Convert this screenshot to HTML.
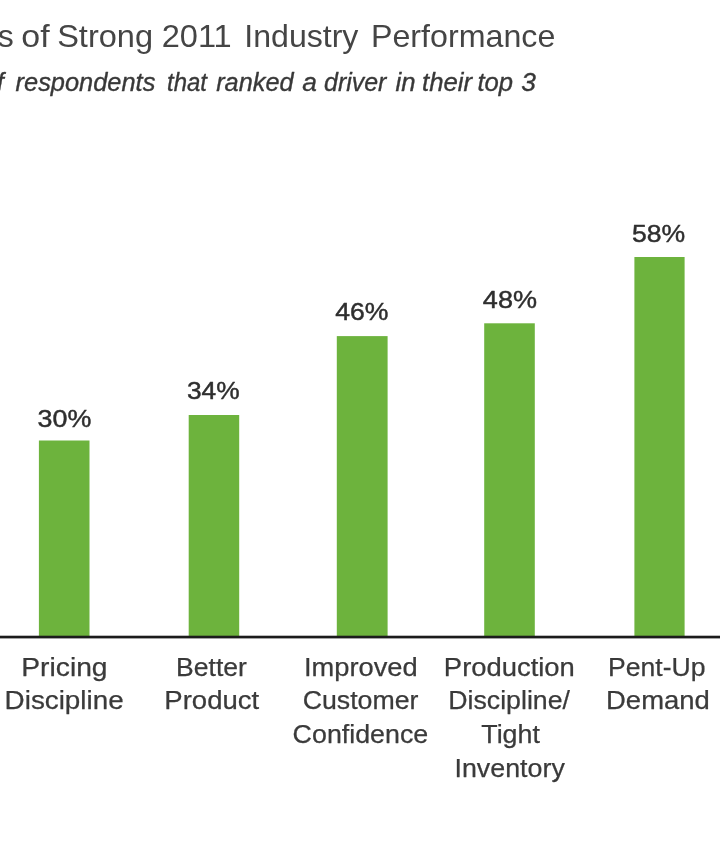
<!DOCTYPE html>
<html><head><meta charset="utf-8"><title>Chart</title>
<style>
html,body{margin:0;padding:0;background:#fff;}
body{width:720px;height:845px;overflow:hidden;}
svg{display:block;font-family:'Liberation Sans', sans-serif;}
text{white-space:pre;}
</style></head><body>
<svg width="720" height="845" viewBox="0 0 720 845">
<defs><filter id="soft" x="-2%" y="-2%" width="104%" height="104%"><feGaussianBlur stdDeviation="0.6"/></filter></defs>
<rect width="720" height="845" fill="#fff"/>
<g filter="url(#soft)">
<g fill="#6db33e"><rect x="38.9" y="440.5" width="50.6" height="196.5"/><rect x="188.7" y="415" width="50.5" height="222"/><rect x="336.8" y="336.1" width="50.8" height="300.9"/><rect x="484.2" y="323.3" width="50.6" height="313.7"/><rect x="634.4" y="257" width="50.2" height="380"/></g>
<rect x="-10" y="635.7" width="740" height="2.7" fill="#1c1c1c"/>
<text font-size="32" fill="#454545">
<tspan x="-2.30" y="47.4">s</tspan> 
<tspan x="21.27" y="47.4" textLength="28.29" lengthAdjust="spacingAndGlyphs">of</tspan> 
<tspan x="57.18" y="47.4" textLength="95.84" lengthAdjust="spacingAndGlyphs">Strong</tspan> 
<tspan x="161.67" y="47.4" textLength="70.05" lengthAdjust="spacingAndGlyphs">2011</tspan> 
<tspan x="244.29" y="47.4" textLength="114.11" lengthAdjust="spacingAndGlyphs">Industry</tspan> 
<tspan x="370.98" y="47.4" textLength="184.32" lengthAdjust="spacingAndGlyphs">Performance</tspan>
</text>
<text font-size="25.5" fill="#383838" font-style="italic" stroke="#383838" stroke-width="0.35" stroke-linejoin="round">
<tspan x="-3.26" y="90.7">f</tspan> 
<tspan x="15.60" y="90.7" textLength="139.79" lengthAdjust="spacingAndGlyphs">respondents</tspan> 
<tspan x="167.05" y="90.7" textLength="39.92" lengthAdjust="spacingAndGlyphs">that</tspan> 
<tspan x="216.20" y="90.7" textLength="77.34" lengthAdjust="spacingAndGlyphs">ranked</tspan> 
<tspan x="302.19" y="90.7" textLength="14.67" lengthAdjust="spacingAndGlyphs">a</tspan> 
<tspan x="324.02" y="90.7" textLength="62.33" lengthAdjust="spacingAndGlyphs">driver</tspan> 
<tspan x="395.60" y="90.7" textLength="20.05" lengthAdjust="spacingAndGlyphs">in</tspan> 
<tspan x="421.99" y="90.7" textLength="50.12" lengthAdjust="spacingAndGlyphs">their</tspan> 
<tspan x="477.40" y="90.7" textLength="35.64" lengthAdjust="spacingAndGlyphs">top</tspan> 
<tspan x="521.39" y="90.7" textLength="14.64" lengthAdjust="spacingAndGlyphs">3</tspan>
</text>
<text font-size="24.5" fill="#2e2e2e" stroke="#2e2e2e" stroke-width="0.45" stroke-linejoin="round">
<tspan x="37.56" y="426.7" textLength="53.74" lengthAdjust="spacingAndGlyphs">30%</tspan>
<tspan x="186.98" y="399.3" textLength="52.71" lengthAdjust="spacingAndGlyphs">34%</tspan>
<tspan x="335.18" y="320.4" textLength="53.21" lengthAdjust="spacingAndGlyphs">46%</tspan>
<tspan x="482.88" y="307.6" textLength="54.13" lengthAdjust="spacingAndGlyphs">48%</tspan>
<tspan x="631.97" y="241.5" textLength="53.22" lengthAdjust="spacingAndGlyphs">58%</tspan>
</text>
<text font-size="25.1" fill="#3a3a3a" stroke="#3a3a3a" stroke-width="0.25" stroke-linejoin="round">
<tspan x="21.29" y="675.9" textLength="86.29" lengthAdjust="spacingAndGlyphs">Pricing</tspan>
<tspan x="4.63" y="708.6" textLength="119.00" lengthAdjust="spacingAndGlyphs">Discipline</tspan>
</text>
<text font-size="25.1" fill="#3a3a3a" stroke="#3a3a3a" stroke-width="0.25" stroke-linejoin="round">
<tspan x="176.13" y="676" textLength="70.80" lengthAdjust="spacingAndGlyphs">Better</tspan>
<tspan x="164.35" y="709" textLength="94.86" lengthAdjust="spacingAndGlyphs">Product</tspan>
</text>
<text font-size="25.1" fill="#3a3a3a" stroke="#3a3a3a" stroke-width="0.25" stroke-linejoin="round">
<tspan x="303.97" y="676.1" textLength="113.66" lengthAdjust="spacingAndGlyphs">Improved</tspan>
<tspan x="302.65" y="709.4" textLength="115.78" lengthAdjust="spacingAndGlyphs">Customer</tspan>
<tspan x="292.64" y="742.8" textLength="135.64" lengthAdjust="spacingAndGlyphs">Confidence</tspan>
</text>
<text font-size="25.1" fill="#3a3a3a" stroke="#3a3a3a" stroke-width="0.25" stroke-linejoin="round">
<tspan x="443.86" y="676.1" textLength="130.98" lengthAdjust="spacingAndGlyphs">Production</tspan>
<tspan x="448.32" y="709.4" textLength="121.59" lengthAdjust="spacingAndGlyphs">Discipline/</tspan>
<tspan x="481.28" y="742.5" textLength="58.63" lengthAdjust="spacingAndGlyphs">Tight</tspan>
<tspan x="454.51" y="777.2" textLength="110.29" lengthAdjust="spacingAndGlyphs">Inventory</tspan>
</text>
<text font-size="25.1" fill="#3a3a3a" stroke="#3a3a3a" stroke-width="0.25" stroke-linejoin="round">
<tspan x="608.02" y="676.1" textLength="97.45" lengthAdjust="spacingAndGlyphs">Pent-Up</tspan>
<tspan x="606.05" y="708.8" textLength="103.79" lengthAdjust="spacingAndGlyphs">Demand</tspan>
</text>
</g>
</svg>
</body></html>
